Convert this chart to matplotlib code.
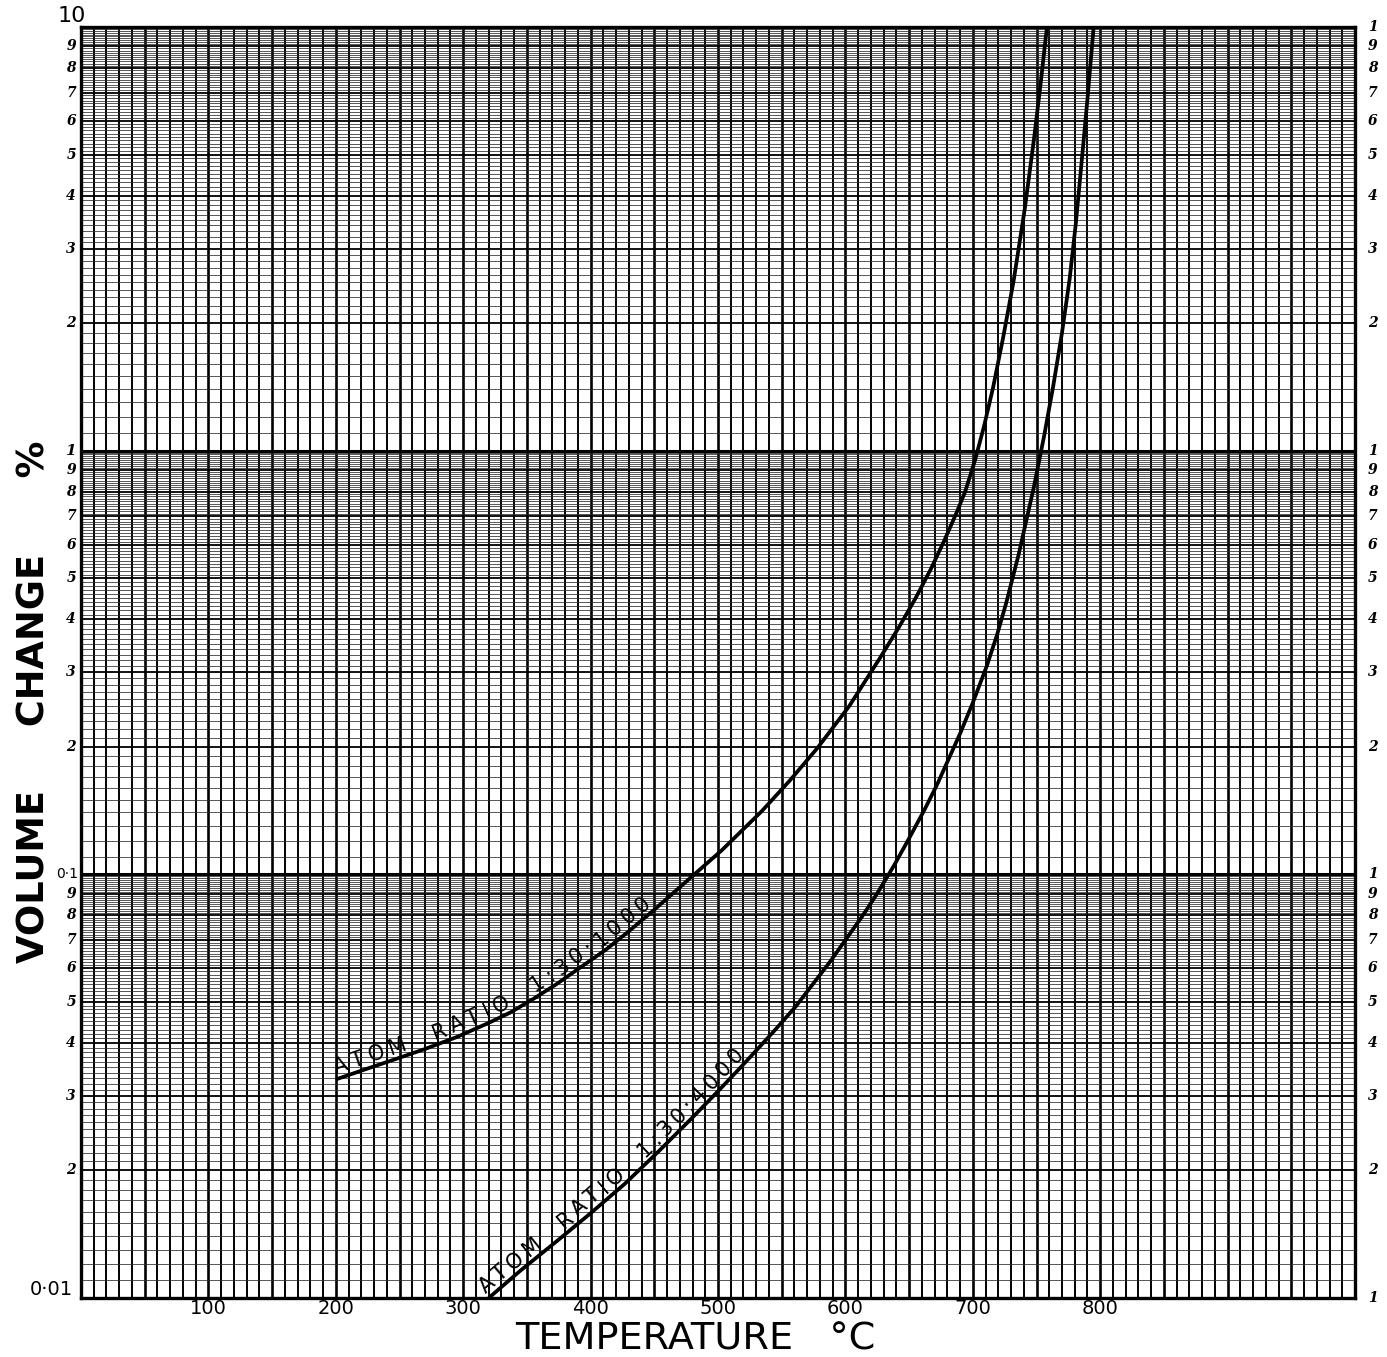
import numpy as np
import matplotlib
matplotlib.use("Agg")
import matplotlib.pyplot as plt
from matplotlib.transforms import IdentityTransform, ScaledTranslation, blended_transform_factory
from matplotlib.font_manager import FontProperties

# ---------------- data ----------------
temp_1000 = [200, 220, 243, 270, 295, 320, 337, 355, 373, 392, 412, 431, 451,
             477, 503, 534, 556, 578, 603, 627, 642, 655, 667, 678, 687, 694,
             702, 709, 716, 724, 732, 741, 748, 753, 758, 760]
vol_1000 = [0.0328, 0.0344, 0.0363, 0.0387, 0.0413, 0.0446, 0.0472, 0.0508,
            0.0550, 0.0603, 0.0664, 0.0738, 0.0830, 0.0973, 0.114, 0.1406,
            0.166, 0.1986, 0.2495, 0.3236, 0.383, 0.448, 0.525, 0.617, 0.711,
            0.800, 0.955, 1.148, 1.413, 1.862, 2.512, 3.758, 5.433, 7.244,
            9.886, 11.2]

temp_4000 = [320, 345, 375, 400, 427, 453, 479, 500, 518, 544, 561, 588, 613,
             625, 638, 650, 662, 672, 690, 700, 711, 719, 726, 736, 748, 756,
             763, 770, 776, 781, 786, 790, 794, 796]
vol_4000 = [0.0100, 0.01161, 0.01374, 0.01585, 0.01862, 0.02213, 0.02649,
            0.03076, 0.03508, 0.04266, 0.04875, 0.06223, 0.07943, 0.09016,
            0.1047, 0.1216, 0.1419, 0.1629, 0.2148, 0.2541, 0.3105, 0.3673,
            0.4345, 0.5689, 0.8222, 1.084, 1.413, 1.897, 2.541, 3.467, 5.012,
            6.761, 9.333, 10.96]

label_1000 = "ATOM  RATIO  1:30:1000"
label_4000 = "ATOM  RATIO  1:30:4000"

x_tick_values = [100, 200, 300, 400, 500, 600, 700, 800]
x_tick_labels = ["100", "200", "300", "400", "500", "600", "700", "800"]

decades = [0.01, 0.1, 1.0]
minor_digits = [2, 3, 4, 5, 6, 7, 8, 9]
left_major_values = [10, 1, 0.1, 0.01]
left_major_labels = ["10", "1", "0·1", "0·01"]
right_one_values = [0.01, 0.1, 1, 10]

x_label = "TEMPERATURE   °C"
y_label = "VOLUME     CHANGE      %"

# ---------------- figure ----------------
W, H = 1387, 1357
fig = plt.figure(figsize=(W / 100, H / 100), dpi=100)
fig.patch.set_facecolor("white")
ax = fig.add_axes([81 / W, 59 / H, 1274 / W, 1271 / H])
ax.set_yscale("log")
ax.set_xlim(0, 1000)
ax.set_ylim(0.01, 10)

# graph-paper grid
vx = np.arange(10, 1000, 10)
ax.vlines([v for v in vx if v % 50], 0.01, 10, colors="black", lw=1.4, zorder=1)
ax.vlines([v for v in vx if v % 50 == 0], 0.01, 10, colors="black", lw=1.9, zorder=1)

fine = []
for d in decades:
    for m10 in range(11, 100):
        if m10 % 10:
            fine.append(d * m10 / 10.0)
ax.hlines(fine, 0, 1000, colors="#2a2a2a", lw=0.55, zorder=1)
ax.hlines([d * k for d in decades for k in minor_digits], 0, 1000,
          colors="black", lw=1.3, zorder=1)
ax.hlines([0.1, 1.0], 0, 1000, colors="black", lw=2.2, zorder=1)

for sp in ax.spines.values():
    sp.set_linewidth(2.4)
    sp.set_color("black")

# curves
ax.plot(temp_1000, vol_1000, color="black", lw=2.7, zorder=5,
        solid_joinstyle="round", solid_capstyle="butt")
ax.plot(temp_4000, vol_4000, color="black", lw=2.7, zorder=5,
        solid_joinstyle="round", solid_capstyle="butt")

# ticks
ax.set_xticks(x_tick_values, x_tick_labels)
ax.tick_params(axis="x", length=0, pad=1, labelsize=14)
ax.set_yticks([])
ax.yaxis.set_minor_locator(matplotlib.ticker.NullLocator())
ax.xaxis.set_minor_locator(matplotlib.ticker.NullLocator())
ax.tick_params(axis="y", which="both", length=0)

left_tr = blended_transform_factory(ax.transAxes, ax.transData)
digit_kw = dict(fontsize=10, fontweight="bold", fontstyle="italic",
                family="DejaVu Serif", va="center")
for d in decades:
    for k in minor_digits:
        ax.text(-0.004, d * k, str(k), transform=left_tr, ha="right", **digit_kw)
        ax.text(1.010, d * k, str(k), transform=left_tr, ha="left", **digit_kw)
for v in right_one_values:
    ax.text(1.010, v, "1", transform=left_tr, ha="left", **digit_kw)

for v, lab in zip(left_major_values, left_major_labels):
    if lab == "1":
        ax.text(-0.004, v, lab, transform=left_tr, ha="right",
                **dict(digit_kw, fontsize=11))
    elif lab == "10":
        off = ScaledTranslation(0, 8 / 72, fig.dpi_scale_trans)
        ax.text(0.004, v, lab, transform=left_tr + off, ha="right",
                va="center", fontsize=16)
    elif lab == "0·01":
        off = ScaledTranslation(0, 6 / 72, fig.dpi_scale_trans)
        ax.text(-0.006, v, lab, transform=left_tr + off, ha="right",
                va="center", fontsize=14)
    else:
        ax.text(-0.002, v, lab, transform=left_tr, ha="right",
                va="center", fontsize=10)

# axis titles
fig.text(515 / W, 8 / H, x_label, ha="left", va="baseline", fontsize=27.5)
fig.text(34 / W, 1 - 702 / H, y_label, rotation=90, ha="center", va="center",
         fontsize=26.5, fontweight="bold")

# text following the curves
fig.canvas.draw()
renderer = fig.canvas.get_renderer()


def text_on_curve(xs, ys, text, fontsize, start, offset, track):
    pts = ax.transData.transform(np.column_stack([xs, ys]))
    seg = np.hypot(np.diff(pts[:, 0]), np.diff(pts[:, 1]))
    s = np.concatenate([[0], np.cumsum(seg)])
    prop = FontProperties(family="DejaVu Sans", size=fontsize)
    pos = start
    for ch in text:
        if ch == " ":
            w = fontsize * 100 / 72 * 0.32
        else:
            w, _, _ = renderer.get_text_width_height_descent(ch, prop, ismath=False)
        c = pos + w / 2
        x = np.interp(c, s, pts[:, 0])
        y = np.interp(c, s, pts[:, 1])
        x1, y1 = np.interp(c - 16, s, pts[:, 0]), np.interp(c - 16, s, pts[:, 1])
        x2, y2 = np.interp(c + 16, s, pts[:, 0]), np.interp(c + 16, s, pts[:, 1])
        ang = np.arctan2(y2 - y1, x2 - x1)
        nx, ny = -np.sin(ang), np.cos(ang)
        if ch != " ":
            fig.text(x + nx * offset, y + ny * offset, ch,
                     transform=IdentityTransform(), rotation=np.degrees(ang),
                     rotation_mode="anchor", ha="center", va="baseline",
                     fontproperties=prop, zorder=6)
        pos += w + track


text_on_curve(temp_1000, vol_1000, label_1000, 15, 2, 5, 5.0)
text_on_curve(temp_4000, vol_4000, label_4000, 15, 0, 5, 4.5)

fig.savefig("out.png", dpi=100, facecolor="white")
